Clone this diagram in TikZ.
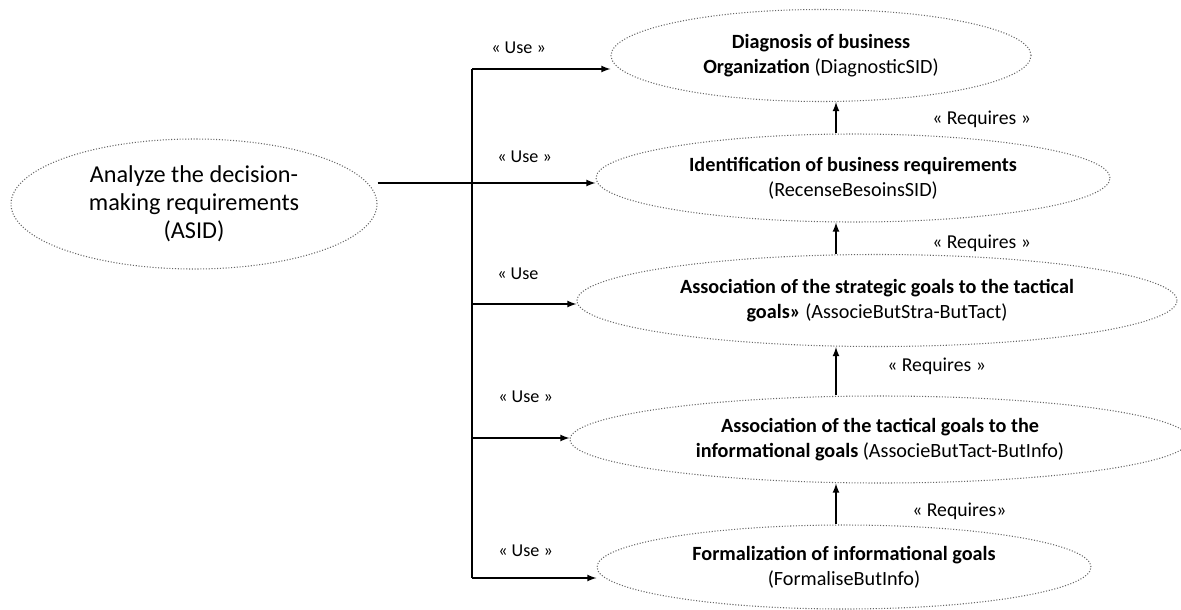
\documentclass[tikz,border=0pt]{standalone}
\usepackage{fontspec}
\setmainfont{Carlito}
\usetikzlibrary{shapes.geometric, positioning, arrows}

\begin{document}
\begin{tikzpicture}[
  uc/.style={ellipse, draw=black!60, densely dotted, line width=0.6pt, inner sep=0pt,
    align=center, font=\fontsize{11.5}{14.2}\selectfont},
  lbl/.style={anchor=west, inner sep=0pt, font=\fontsize{11.2}{12}\selectfont},
  uselbl/.style={lbl, font=\fontsize{10.3}{11}\selectfont},
  link/.style={-latex, line width=0.8pt}]
\useasboundingbox (0,0) rectangle (23.62,-12.18);

\node[uc, minimum width=7.32cm, minimum height=2.6cm, font=\fontsize{13.8}{15.9}\selectfont]
  (asid) at (3.88,-4.08) {Analyze the decision-\\making requirements\\(ASID)};
\node[uc, minimum width=8.4cm, minimum height=1.84cm] (diag) at (16.42,-1.11)
  {\textbf{Diagnosis of business}\\\textbf{Organization} (DiagnosticSID)};
\node[uc, minimum width=10.28cm, minimum height=1.76cm] (ident) at (17.06,-3.56)
  {\textbf{Identification of business requirements}\\(RecenseBesoinsSID)};
\node[uc, minimum width=12cm, minimum height=1.84cm] (strat) at (17.54,-6.01)
  {\textbf{Association of the strategic goals to the tactical}\\\textbf{goals»} (AssocieButStra-ButTact)};
\node[uc, minimum width=12.4cm, minimum height=1.74cm] (tact) at (17.6,-8.79)
  {\textbf{Association of the tactical goals to the}\\\textbf{informational goals} (AssocieButTact-ButInfo)};
\node[uc, minimum width=9.88cm, minimum height=1.68cm] (form) at (16.88,-11.34)
  {\textbf{Formalization of informational goals}\\(FormaliseButInfo)};

\coordinate (u1) at (9.44,-1.38);
\coordinate (u2) at (9.44,-3.66);
\coordinate (u3) at (9.44,-6.08);
\coordinate (u4) at (9.44,-8.76);
\coordinate (u5) at (9.44,-11.56);
\coordinate (rq) at (16.72,0);

\draw[line width=0.8pt] (u1) -- (u5); %the bus
\draw[link] (asid.east |- u2) -- (u2 -| ident.west);
\draw[link] (u1) -- (u1 -| diag.west);
\draw[link] (u3) -- (u3 -| strat.west);
\draw[link] (u4) -- (u4 -| tact.west);
\draw[link] (u5) -- (u5 -| form.west);

\draw[link] (ident.north -| rq) -- (diag.south -| rq);
\draw[link] (strat.north -| rq) -- (ident.south -| rq);
\draw[link] (tact.north -| rq) -- (strat.south -| rq);
\draw[link] (form.north -| rq) -- (tact.south -| rq);

\node[uselbl] (use1) at (9.82,-0.96) {« Use »};
\node[uselbl] (use2) at (9.94,-3.14) {« Use »};
\node[uselbl] (use3) at (9.94,-5.48) {« Use};
\node[uselbl] (use4) at (9.96,-7.94) {« Use »};
\node[uselbl] (use5) at (9.96,-11.02) {« Use »};
\node[lbl] (req1) at (18.64,-2.38) {« Requires »};
\node[lbl] (req2) at (18.64,-4.86) {« Requires »};
\node[lbl] (req3) at (17.74,-7.32) {« Requires »};
\node[lbl] (req4) at (18.24,-10.22) {« Requires»};
\end{tikzpicture}
\end{document}
